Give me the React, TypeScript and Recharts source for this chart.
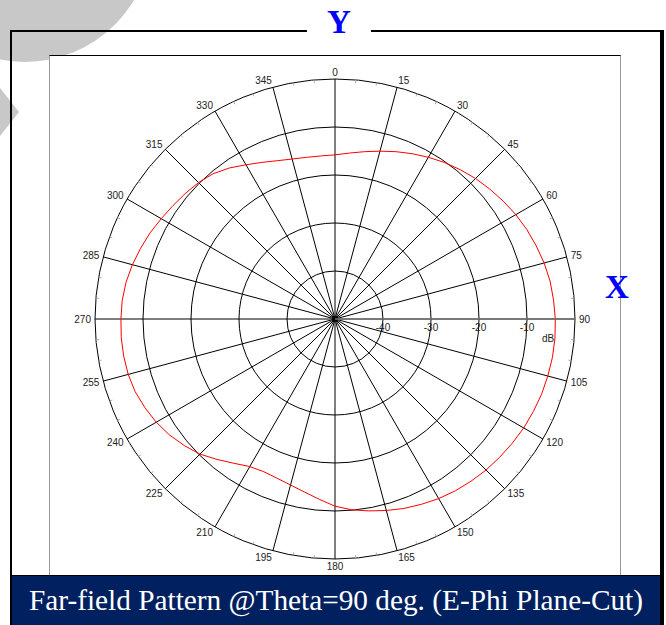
import React from "react";
import {
  RadarChart,
  Radar,
  PolarGrid,
  PolarAngleAxis,
  PolarRadiusAxis,
} from "recharts";

// azimuth (deg) of each sample, clockwise from Y
const phi = [
  0, 5, 10, 15, 20, 25, 30, 35, 40, 45, 50, 55, 60, 65, 70, 75, 80, 85,
  90, 95, 100, 105, 110, 115, 120, 125, 130, 135, 140, 145, 150, 155, 160, 165, 170, 175,
  180, 185, 190, 195, 200, 205, 210, 215, 220, 225, 230, 235, 240, 245, 250, 255, 260, 265,
  270, 275, 280, 285, 290, 295, 300, 305, 310, 315, 320, 325, 330, 335, 340, 345, 350, 355,
];

// E-Phi gain, dB
const gainDb = [
  -15.8, -15.3, -14.6, -13.8, -12.9, -12.0, -11.1, -10.2, -9.4, -8.6, -7.9, -7.2, -6.5, -5.9, -5.4, -4.9, -4.5, -4.3,
  -4.1, -4.0, -4.0, -4.1, -4.2, -4.4, -4.6, -4.9, -5.2, -5.5, -5.9, -6.3, -6.8, -7.4, -8.0, -8.7, -9.4, -10.1,
  -11.0, -12.3, -13.4, -14.2, -14.7, -14.9, -14.5, -13.3, -11.8, -10.2, -9.0, -7.9, -7.0, -6.3, -5.7, -5.4, -5.3, -5.3,
  -5.4, -5.5, -5.8, -6.3, -6.9, -7.5, -8.2, -8.8, -9.3, -9.8, -10.5, -11.6, -12.9, -14.0, -14.9, -15.5, -15.8, -15.9,
];

const angleTicks = [0, 15, 30, 45, 60, 75, 90, 105, 120, 135, 150, 165, 180, 195, 210, 225, 240, 255, 270, 285, 300, 315, 330, 345];
const minorAngleTicks = [
  5, 10, 20, 25, 35, 40, 50, 55, 65, 70, 80, 85, 95, 100, 110, 115, 125, 130, 140, 145, 155, 160, 170, 175,
  185, 190, 200, 205, 215, 220, 230, 235, 245, 250, 260, 265, 275, 280, 290, 295, 305, 310, 320, 325, 335, 340, 350, 355,
];
const dbTicks = [-50, -40, -30, -20, -10, 0];
const dbLabels = [-40, -30, -20, -10];

const data = phi.map((a, i) => ({ phi: a, gain: gainDb[i] }));

const tickFont = "'Liberation Sans Narrow', 'Liberation Sans', Arial, sans-serif";

function AngleTick(props: any) {
  const { x, y, payload, textAnchor } = props;
  const dy = -Math.sin((payload.coordinate * Math.PI) / 180) * 3;
  return (
    <text
      x={x}
      y={y + dy}
      textAnchor={textAnchor}
      dominantBaseline="central"
      fontSize={10}
      fontFamily={tickFont}
      fill="#222"
    >
      {payload.value}
    </text>
  );
}

function DbTick(props: any) {
  const { x, y, payload } = props;
  if (!dbLabels.includes(payload.value)) return <g />;
  return (
    <g>
      <text x={x} y={y + 8} textAnchor="middle" dominantBaseline="central" fontSize={10} fontFamily={tickFont} fill="#222">
        {payload.value}
      </text>
      {payload.value === -10 && (
        <text x={x + 21} y={y + 19} textAnchor="middle" dominantBaseline="central" fontSize={10} fontFamily={tickFont} fill="#222">
          dB
        </text>
      )}
    </g>
  );
}

export default function App() {
  return (
    <div style={{ position: "absolute", left: 0, top: 0, width: 666, height: 625, overflow: "hidden", background: "#fff" }}>
      <svg width={666} height={625} style={{ position: "absolute", left: 0, top: 0 }}>
        <circle cx={25} cy={-65} r={127} fill="#c8c8c8" />
        <polygon points="0,88 19,112 0,136" fill="#c8c8c8" />
      </svg>
      <div
        style={{
          position: "absolute",
          left: 10,
          top: 30,
          width: 654,
          height: 620,
          boxSizing: "border-box",
          borderTop: "2px solid #000",
          borderLeft: "2px solid #000",
          borderRight: "4px solid #000",
        }}
      />
      <div
        style={{
          position: "absolute",
          left: 49,
          top: 55,
          width: 572,
          height: 520,
          boxSizing: "border-box",
          background: "#fff",
          borderTop: "1px solid #000",
          borderLeft: "1px solid #999",
          borderRight: "1px solid #999",
        }}
      />
      <div style={{ position: "absolute", left: 49, top: 55 }}>
        <RadarChart width={572} height={520} data={data} cx={286} cy={264} outerRadius={240} margin={{ top: 0, right: 0, bottom: 0, left: 0 }}>
          <PolarGrid gridType="circle" stroke="#000" strokeWidth={1} />
          <PolarAngleAxis
            dataKey="phi"
            type="number"
            domain={[0, 360]}
            ticks={angleTicks}
            tickSize={4}
            tickLine={false}
            axisLine={false}
            tick={<AngleTick />}
          />
          <PolarAngleAxis
            angleAxisId="minor"
            dataKey="phi"
            type="number"
            domain={[0, 360]}
            ticks={minorAngleTicks}
            orientation="inner"
            tickSize={3}
            tickLine={{ stroke: "#aaa" }}
            axisLine={false}
            tick={false}
          />
          <PolarRadiusAxis
            angle={0}
            type="number"
            domain={[-50, 0]}
            ticks={dbTicks}
            tickLine={false}
            axisLine={{ stroke: "#777", strokeWidth: 1.5 }}
            tick={<DbTick />}
          />
          {[90, 180, 270].map((a) => (
            <PolarRadiusAxis
              key={a}
              radiusAxisId={"r" + a}
              angle={a}
              type="number"
              domain={[-50, 0]}
              tick={false}
              tickLine={false}
              axisLine={{ stroke: "#777", strokeWidth: 1.5 }}
            />
          ))}
          <Radar
            dataKey="gain"
            stroke="#ff0000"
            strokeWidth={1}
            fill="none"
            fillOpacity={0}
            dot={false}
            isAnimationActive={false}
          />
        </RadarChart>
      </div>
      <div
        style={{
          position: "absolute",
          left: 307,
          top: 4,
          width: 64,
          height: 36,
          background: "#fff",
          textAlign: "center",
          lineHeight: "36px",
          fontSize: 33,
          fontWeight: "bold",
          fontFamily: "'Liberation Serif', 'Times New Roman', serif",
          color: "#0000ff",
        }}
      >
        Y
      </div>
      <div
        style={{
          position: "absolute",
          left: 600,
          top: 269,
          width: 34,
          height: 36,
          textAlign: "center",
          lineHeight: "36px",
          fontSize: 33,
          fontWeight: "bold",
          fontFamily: "'Liberation Serif', 'Times New Roman', serif",
          color: "#0000ff",
        }}
      >
        X
      </div>
      <div
        style={{
          position: "absolute",
          left: 12,
          top: 575,
          width: 648,
          height: 50,
          boxSizing: "border-box",
          borderTop: "1px solid #000",
          background: "#00205f",
          color: "#fff",
          textAlign: "center",
          lineHeight: "49px",
          fontSize: 29.3,
          fontFamily: "'Liberation Serif', 'Times New Roman', serif",
          whiteSpace: "nowrap",
        }}
      >
        Far-field Pattern @Theta=90 deg. (E-Phi Plane-Cut)
      </div>
    </div>
  );
}
